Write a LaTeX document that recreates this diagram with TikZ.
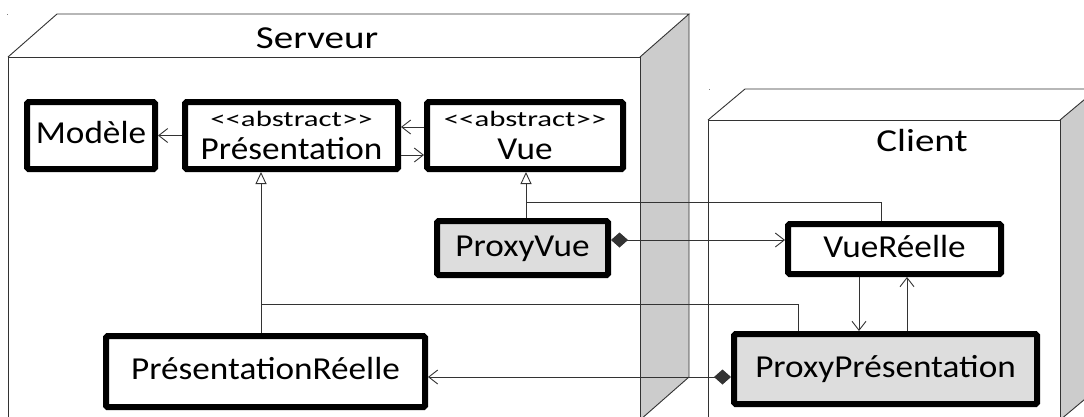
\documentclass[tikz,border=0pt]{standalone}
\usepackage{fontspec}
\setmainfont{Carlito}[FakeStretch=1.1]
\newfontfamily\abfont{Carlito}[FakeStretch=1.4]
\newfontfamily\hdfont{Carlito}[FakeStretch=1.22]
\usetikzlibrary{arrows.meta,calc}
\definecolor{sidegray}{HTML}{CCCCCC}
\definecolor{proxygray}{HTML}{DDDDDD}
\definecolor{linegray}{HTML}{333333}
\begin{document}
\begin{tikzpicture}[x=1pt,y=-1pt,
  outl/.style={line width=0.9pt, draw=linegray},
  cls/.style={draw=black, line width=6pt, rounded corners=1.5pt, fill=white, inner sep=0pt,
    font=\fontsize{32}{34}\selectfont, text height=22pt, text depth=6pt},
  abcls/.style={draw=black, line width=6pt, rounded corners=1.5pt, fill=white, inner sep=0pt,
    align=center, font=\fontsize{32}{33.4}\selectfont},
  proxy/.style={cls, fill=proxygray},
  rel/.style={line width=0.9pt, draw=linegray},
  nav/.style={rel, -{Straight Barb[length=9pt,width=14pt]}},
  gen/.style={rel, -{Triangle[open,length=12pt,width=11pt,fill=white]}},
  comp/.style={rel, {Diamond[length=17pt,width=15pt]}-{Straight Barb[length=9pt,width=14pt]}},
  hdr/.style={font=\hdfont\fontsize{32}{34}\selectfont, inner sep=0pt, anchor=base}
]
\useasboundingbox (0,0) rectangle (1084,416);
\clip (0,0) rectangle (1084,416);
\fill[white] (0,0) rectangle (1084,416);

% tiny marks
\fill[gray] (6.5,13.5) rectangle (8,15);
\fill[gray] (708.5,88.5) rectangle (710,90);

% Serveur node
\fill[sidegray] (640,57) -- (689,14) -- (689,377) -- (640,420) -- cycle;
\draw[outl] (8,420) -- (8,57) -- (640,57) -- (640,420);
\draw[outl] (8,57) -- (57,14) -- (689,14) -- (640,57);
\draw[outl] (689,14) -- (689,377) -- (640,420);
\node[hdr] (srv) at (317,48) {Serveur};

% Client node
\fill[sidegray] (1060,120) -- (1097,89) -- (1097,389) -- (1060,420) -- cycle;
\draw[outl] (708,420) -- (708,120) -- (1060,120) -- (1060,420);
\draw[outl] (708,120) -- (745,89) -- (1097,89) -- (1060,120);
\draw[outl] (1097,89) -- (1097,389) -- (1060,420);
\node[hdr] (cli) at (922,151.7) {Client};

% classes
\node[cls, minimum width=128pt, minimum height=67pt] (mod) at (91,135.5) {Modèle};
\node[abcls, minimum width=213pt, minimum height=67pt] (pres) at (291.5,135.5)
  {{\abfont\fontsize{22}{33.4}\selectfont <\kern0pt<abstract>\kern0pt>}\\Présentation};
\node[abcls, minimum width=196pt, minimum height=67pt] (vue) at (525,135.5)
  {{\abfont\fontsize{22}{33.4}\selectfont <\kern0pt<abstract>\kern0pt>}\\Vue};
\node[proxy, minimum width=171pt, minimum height=54pt] (pvue) at (522.5,248) {ProxyVue};
\node[cls, minimum width=213pt, minimum height=50pt] (vuer) at (894.5,249) {VueRéelle};
\node[cls, minimum width=319pt, minimum height=71pt] (presr) at (265.5,371.5) {PrésentationRéelle};
\node[proxy, minimum width=303pt, minimum height=70pt] (pprox) at (885.5,369) {ProxyPrésentation};

% helper coordinates
\coordinate (j1) at (261,304);
\coordinate (k1) at (798,304);
\coordinate (j2) at (526,202);
\coordinate (k2) at (881,202);
\coordinate (c1) at (700,240);
\coordinate (c2) at (600,377);
\coordinate (d1) at (859,300);
\coordinate (d2) at (907,300);

% associations
\draw[nav] (pres.west) -- (mod.east);
\draw[nav] ([yshift=8.5pt]vue.west) -- ([yshift=8.5pt]pres.east);
\draw[nav] ([yshift=-19.5pt]pres.east) -- ([yshift=-19.5pt]vue.west);

% generalisations
\draw[rel] (pprox.north -| k1) -- (k1) -- (j1);
\draw[gen] (presr.north -| j1) -- (pres.south -| j1);
\draw[rel] (vuer.north -| k2) -- (k2) -- (j2);
\draw[gen] (pvue.north -| j2) -- (vue.south -| j2);

% compositions
\draw[comp] (pvue.east |- c1) -- (vuer.west |- c1);
\draw[comp] (pprox.west |- c2) -- (presr.east |- c2);

% vertical navigations
\draw[nav] (vuer.south -| d1) -- (pprox.north -| d1);
\draw[nav] (pprox.north -| d2) -- (vuer.south -| d2);
\end{tikzpicture}
\end{document}
